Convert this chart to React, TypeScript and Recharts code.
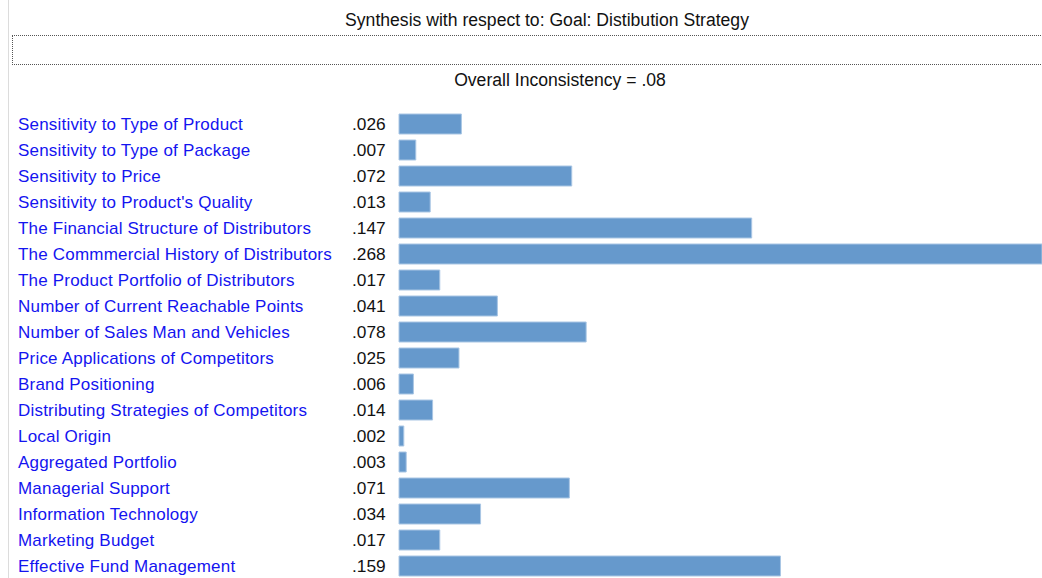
import React from "react";
import { BarChart, Bar, XAxis, YAxis } from "recharts";

const categories: string[] = [
  "Sensitivity to Type of Product",
  "Sensitivity to Type of Package",
  "Sensitivity to Price",
  "Sensitivity to Product's Quality",
  "The Financial Structure of Distributors",
  "The Commmercial History of Distributors",
  "The Product Portfolio of Distributors",
  "Number of Current Reachable Points",
  "Number of Sales Man and Vehicles",
  "Price Applications of Competitors",
  "Brand Positioning",
  "Distributing Strategies of Competitors",
  "Local Origin",
  "Aggregated Portfolio",
  "Managerial Support",
  "Information Technology",
  "Marketing Budget",
  "Effective Fund Management",
];

const weights: number[] = [
  0.026, 0.007, 0.072, 0.013, 0.147, 0.268, 0.017, 0.041, 0.078, 0.025, 0.006,
  0.014, 0.002, 0.003, 0.071, 0.034, 0.017, 0.159,
];

const weightLabels: string[] = [
  ".026", ".007", ".072", ".013", ".147", ".268", ".017", ".041", ".078",
  ".025", ".006", ".014", ".002", ".003", ".071", ".034", ".017", ".159",
];

const titleText = "Synthesis with respect to: Goal: Distibution Strategy";
const inconsistencyText = "Overall Inconsistency = .08";

const data = categories.map((name, i) => ({
  name,
  value: weights[i],
  label: weightLabels[i],
}));

const FONT = "'Liberation Sans', Arial, sans-serif";

const RowTick = (props: any) => {
  const { y, payload, index } = props;
  const lbl = weightLabels[index] ?? data.find((d) => d.name === payload.value)?.label;
  return (
    <g>
      <text
        x={18}
        y={y}
        dy="0.36em"
        fill="#1414F0"
        fontSize={17}
        fontFamily={FONT}
        letterSpacing={0.2}
        textAnchor="start"
      >
        {payload.value}
      </text>
      <text x={352} y={y} dy="0.36em" fill="#111" fontSize={17.3} fontFamily={FONT} textAnchor="start">
        {lbl}
      </text>
    </g>
  );
};

export default function App() {
  return (
    <div
      style={{
        position: "absolute",
        left: 0,
        top: 0,
        width: 1042,
        height: 578,
        overflow: "hidden",
        background: "#fff",
        fontFamily: FONT,
      }}
    >
      <div style={{ position: "absolute", left: 8, top: 0, width: 1, height: 578, background: "#dcdcdc" }} />
      <div
        style={{
          position: "absolute",
          left: 0,
          top: 9,
          width: 1094,
          textAlign: "center",
          fontSize: 17.6,
          color: "#111",
          lineHeight: "22px",
        }}
      >
        {titleText}
      </div>
      <div
        style={{
          position: "absolute",
          left: 12,
          top: 35,
          width: 1040,
          height: 28,
          borderTop: "1px dotted #555",
          borderBottom: "1px dotted #555",
          borderLeft: "1px dotted #555",
        }}
      />
      <div
        style={{
          position: "absolute",
          left: 0,
          top: 69,
          width: 1120,
          textAlign: "center",
          fontSize: 17.6,
          color: "#111",
          lineHeight: "22px",
        }}
      >
        {inconsistencyText}
      </div>
      <div style={{ position: "absolute", left: 0, top: 0 }}>
        <BarChart
          width={1042}
          height={580}
          data={data}
          layout="vertical"
          margin={{ top: 111, right: 0, bottom: 1, left: 0 }}
          barCategoryGap={6}
        >
          <XAxis type="number" domain={[0, 0.268]} hide />
          <YAxis
            type="category"
            dataKey="name"
            width={399}
            axisLine={false}
            tickLine={false}
            interval={0}
            tick={<RowTick />}
          />
          <Bar
            dataKey="value"
            fill="#6699CC"
            stroke="#A9C6E4"
            strokeWidth={1}
            barSize={20}
            isAnimationActive={false}
          />
        </BarChart>
      </div>
    </div>
  );
}
